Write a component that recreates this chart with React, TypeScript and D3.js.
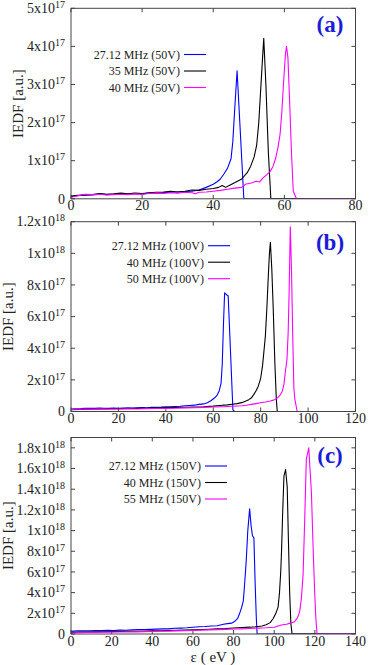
import React from 'react';
import * as d3 from 'd3';

type Pt = [number, number];

// energy (eV) vs IEDF in units of 1e17
const blueA: Pt[] = [[0,0.05],[1,0.08],[3,0.09],[5,0.1],[7,0.11],[8,0.13],[10,0.11],[12,0.12],[14,0.13],[16,0.12],[18,0.14],[20,0.13],[22,0.15],[24,0.14],[26,0.16],[28,0.17],[30,0.18],[32,0.19],[34,0.2],[36,0.23],[38,0.3],[40,0.38],[41,0.44],[42,0.52],[43,0.65],[44,0.8],[45,1.05],[45.5,1.5],[46,2.3],[46.7,3.36],[48.6,0],[80,0]];
const blackA: Pt[] = [[0,0.07],[2,0.09],[4,0.1],[6,0.11],[8,0.14],[10,0.12],[12,0.13],[14,0.15],[16,0.13],[18,0.15],[20,0.14],[22,0.16],[24,0.17],[26,0.18],[28,0.2],[30,0.18],[32,0.2],[34,0.23],[36,0.22],[38,0.25],[40,0.27],[41.5,0.3],[42.5,0.35],[43.5,0.3],[44.5,0.35],[46,0.42],[48,0.52],[49.5,0.68],[50.5,0.85],[51.5,1.1],[52.2,1.4],[52.8,2.0],[53.3,2.8],[53.8,3.6],[54.2,4.21],[54.8,3.0],[55.5,1.2],[56.2,0],[80,0]];
const magentaA: Pt[] = [[0,0.04],[2,0.08],[4,0.12],[6,0.11],[8,0.12],[10,0.1],[12,0.11],[14,0.12],[16,0.11],[18,0.13],[20,0.12],[22,0.14],[24,0.15],[26,0.14],[28,0.16],[30,0.15],[32,0.17],[34,0.16],[35,0.13],[36,0.17],[38,0.18],[40,0.2],[42,0.22],[44,0.25],[46,0.28],[48,0.3],[49,0.38],[50,0.4],[51,0.42],[52,0.46],[53,0.44],[54,0.55],[55,0.63],[56,0.72],[56.8,0.85],[57.5,1.05],[58.2,1.35],[58.8,1.7],[59.3,2.3],[59.8,3.1],[60.3,3.8],[60.6,4.0],[61,3.7],[61.5,2.5],[62,1.2],[62.5,0.2],[63.4,0],[80,0]];

const blueB: Pt[] = [[0,0.15],[2,0.17],[4,0.18],[6,0.2],[8,0.21],[10,0.2],[12,0.22],[14,0.21],[16,0.2],[18,0.22],[20,0.21],[22,0.22],[24,0.23],[26,0.22],[28,0.24],[30,0.25],[32,0.24],[34,0.26],[36,0.27],[38,0.28],[40,0.3],[42,0.3],[44,0.32],[46,0.33],[48,0.36],[50,0.38],[52,0.4],[54,0.45],[56,0.48],[57.5,0.55],[59,0.68],[60.5,0.85],[61.5,1.0],[62.5,1.3],[63.3,1.8],[63.8,3.0],[64.3,5.5],[64.8,7.5],[65.5,7.4],[66.3,7.3],[68.3,0.1],[69,0],[120,0]];
const blackB: Pt[] = [[0,0.12],[4,0.13],[8,0.15],[12,0.16],[16,0.17],[20,0.18],[24,0.19],[28,0.2],[32,0.21],[36,0.23],[40,0.25],[44,0.26],[48,0.27],[52,0.28],[56,0.3],[60,0.34],[64,0.4],[66,0.42],[68,0.46],[70,0.5],[72,0.56],[74,0.68],[75,0.75],[76,0.85],[77,1.05],[78,1.3],[79,1.6],[80,2.1],[80.8,2.9],[81.5,4.0],[82,4.8],[82.6,6.5],[83.2,8.5],[83.7,10.0],[84.1,10.7],[84.7,9.0],[85.3,6.5],[86,3.0],[86.6,0.8],[87,0],[120,0]];
const magentaB: Pt[] = [[0,0.13],[4,0.16],[8,0.15],[12,0.16],[16,0.15],[20,0.16],[24,0.17],[28,0.16],[32,0.18],[36,0.19],[40,0.2],[44,0.21],[48,0.23],[52,0.24],[56,0.26],[60,0.28],[64,0.3],[68,0.33],[72,0.36],[74,0.4],[76,0.45],[78,0.5],[80,0.55],[82,0.6],[84,0.66],[85.5,0.72],[87,0.85],[88,1.0],[89,1.23],[89.8,1.7],[90.4,2.5],[91.1,3.3],[91.6,5.0],[92,7.5],[92.3,10],[92.5,11.67],[93,9.0],[93.5,5.0],[94,1.5],[94.4,0.8],[95.4,0],[120,0]];

const blueC: Pt[] = [[0,0.25],[3,0.3],[6,0.32],[9,0.3],[12,0.34],[15,0.33],[18,0.35],[21,0.34],[24,0.37],[27,0.36],[30,0.4],[33,0.42],[36,0.43],[39,0.45],[42,0.47],[45,0.5],[48,0.5],[51,0.55],[54,0.57],[57,0.6],[60,0.65],[63,0.7],[66,0.72],[69,0.78],[72,0.8],[75,0.95],[77,1.0],[79,1.05],[80.5,1.2],[82,1.5],[83,2.0],[84,2.6],[84.8,3.2],[85.5,5.0],[86.2,7.0],[87,10.0],[87.9,12.1],[88.6,10.5],[89.3,9.5],[90,9.3],[90.6,5.0],[91.2,1.5],[91.6,0],[140,0]];
const blackC: Pt[] = [[0,0.15],[4,0.18],[8,0.2],[12,0.22],[16,0.22],[20,0.24],[24,0.25],[28,0.26],[32,0.27],[36,0.29],[40,0.3],[44,0.32],[48,0.34],[52,0.36],[56,0.38],[60,0.4],[64,0.43],[68,0.46],[72,0.5],[76,0.53],[80,0.58],[84,0.63],[88,0.66],[91,0.7],[94,0.78],[96,0.9],[98,1.1],[99.5,1.5],[100.8,2.0],[101.9,2.6],[102.6,4.0],[103.2,6.0],[103.6,8.0],[104.2,12.0],[104.8,15.3],[105.6,15.9],[106.4,14.2],[107,9.0],[107.6,4.0],[108.2,1.0],[108.8,0],[140,0]];
const magentaC: Pt[] = [[0,0.1],[4,0.13],[8,0.15],[12,0.16],[16,0.17],[20,0.18],[24,0.19],[28,0.2],[32,0.21],[36,0.23],[40,0.25],[44,0.26],[48,0.28],[52,0.3],[56,0.32],[60,0.35],[64,0.37],[68,0.4],[72,0.42],[76,0.45],[80,0.48],[84,0.5],[88,0.53],[92,0.57],[96,0.6],[100,0.66],[103.5,0.87],[106,0.95],[108,1.05],[110,1.18],[111.5,1.6],[112.5,2.14],[113.4,3.5],[114.2,5.7],[115,11.0],[115.8,16.9],[117,18.0],[117.6,16.0],[118.3,13.7],[119.2,8.0],[119.9,4.1],[120.5,1.5],[121.1,0],[140,0]];

const xTicksA = [0, 20, 40, 60, 80];
const xTicksB = [0, 20, 40, 60, 80, 100, 120];
const xTicksC = [0, 20, 40, 60, 80, 100, 120, 140];
// y ticks in units of 1e17
const yTicksA = [0, 1, 2, 3, 4, 5];
const yTicksB = [0, 2, 4, 6, 8, 10, 12];
const yTicksC = [0, 2, 4, 6, 8, 10, 12, 14, 16, 18];

const legendA = ['27.12 MHz (50V)', '35 MHz (50V)', '40 MHz (50V)'];
const legendB = ['27.12 MHz (100V)', '40 MHz (100V)', '50 MHz (100V)'];
const legendC = ['27.12 MHz (150V)', '40 MHz (150V)', '55 MHz (150V)'];
const colors = ['#0000ff', '#000000', '#ff00ff'];

const FONT = "'Liberation Serif', 'Times New Roman', serif";
const LEFT = 71;
const RIGHT = 355.5;

function TickLabel({ v, x, y }: { v: number; x: number; y: number }) {
  if (v === 0) {
    return <text x={x} y={y} textAnchor="end" fontSize={14}>0</text>;
  }
  const big = v >= 10;
  const m = big ? +(v / 10).toFixed(1) : v;
  return (
    <text x={x} y={y} textAnchor="end" fontSize={14}>
      {`${m}x10`}
      <tspan dy={-5} fontSize={10}>{big ? '18' : '17'}</tspan>
    </text>
  );
}

function Panel(props: {
  id: string; top: number; bottom: number; xMax: number; yMax: number;
  xTicks: number[]; yTicks: number[]; series: Pt[][]; legend: string[];
  legEnd: number; legRow: number; label: string; labelY: number; ylabX: number;
}) {
  const { id, top, bottom, xMax, yMax, xTicks, yTicks, series, legend, legEnd, legRow, label, labelY, ylabX } = props;
  const x = d3.scaleLinear().domain([0, xMax]).range([LEFT, RIGHT]);
  const y = d3.scaleLinear().domain([0, yMax]).range([bottom, top]);
  const line = d3.line<Pt>().x(d => x(d[0])).y(d => y(d[1]));
  const tl = 4;
  return (
    <g fontFamily={FONT} fill="#222">
      <defs>
        <clipPath id={`clip-${id}`}>
          <rect x={LEFT} y={top} width={RIGHT - LEFT} height={bottom - top} />
        </clipPath>
      </defs>
      {xTicks.map(t => (
        <g key={`x${t}`}>
          <line x1={x(t)} x2={x(t)} y1={bottom} y2={bottom - tl} stroke="#444" />
          <line x1={x(t)} x2={x(t)} y1={top} y2={top + tl} stroke="#444" />
          <text x={x(t)} y={bottom + 11.5} textAnchor="middle" fontSize={14}>{t}</text>
        </g>
      ))}
      {yTicks.map(t => (
        <g key={`y${t}`}>
          <line x1={LEFT} x2={LEFT + tl} y1={y(t)} y2={y(t)} stroke="#444" />
          <line x1={RIGHT} x2={RIGHT - tl} y1={y(t)} y2={y(t)} stroke="#444" />
          <TickLabel v={t} x={65} y={y(t) + 4.7} />
        </g>
      ))}
      <text transform={`translate(${ylabX},${(top + bottom) / 2}) rotate(-90)`} textAnchor="middle" fontSize={15}>IEDF [a.u.]</text>
      <g clipPath={`url(#clip-${id})`}>
        {series.map((s, i) => (
          <path key={i} d={line(s) || ''} fill="none" stroke={colors[i]} strokeWidth={1.1} strokeLinejoin="round" />
        ))}
      </g>
      <rect x={LEFT} y={top} width={RIGHT - LEFT} height={bottom - top} fill="none" stroke="#444" strokeWidth={1} />
      {legend.map((name, i) => {
        const cy = legRow + i * 16.5;
        return (
          <g key={name}>
            <text x={legEnd} y={cy + 4.3} textAnchor="end" fontSize={12}>{name}</text>
            <line x1={legEnd + 4} x2={legEnd + 26} y1={cy} y2={cy} stroke={colors[i]} strokeWidth={1.1} />
          </g>
        );
      })}
      <text x={330} y={labelY} textAnchor="middle" fontSize={23} fontWeight="bold" fill="#1c1cd8">{label}</text>
    </g>
  );
}

export default function App() {
  return (
    <>
      <style>{'body{margin:0}'}</style>
      <svg width={374} height={665} style={{ display: 'block', background: '#fff' }}>
        <Panel id="a" top={8.3} bottom={198.8} xMax={80} yMax={5} xTicks={xTicksA} yTicks={yTicksA}
          series={[blueA, blackA, magentaA]} legend={legendA} legEnd={180} legRow={54.5}
          label="(a)" labelY={32} ylabX={23} />
        <Panel id="b" top={221.7} bottom={411.5} xMax={120} yMax={12} xTicks={xTicksB} yTicks={yTicksB}
          series={[blueB, blackB, magentaB]} legend={legendB} legEnd={204} legRow={245.7}
          label="(b)" labelY={250} ylabX={13} />
        <Panel id="c" top={437.5} bottom={634} xMax={140} yMax={19} xTicks={xTicksC} yTicks={yTicksC}
          series={[blueC, blackC, magentaC]} legend={legendC} legEnd={201} legRow={466}
          label="(c)" labelY={463} ylabX={13} />
        <text x={213} y={661.5} textAnchor="middle" fontSize={15} fontFamily={FONT} fill="#222">ε ( eV )</text>
      </svg>
    </>
  );
}
